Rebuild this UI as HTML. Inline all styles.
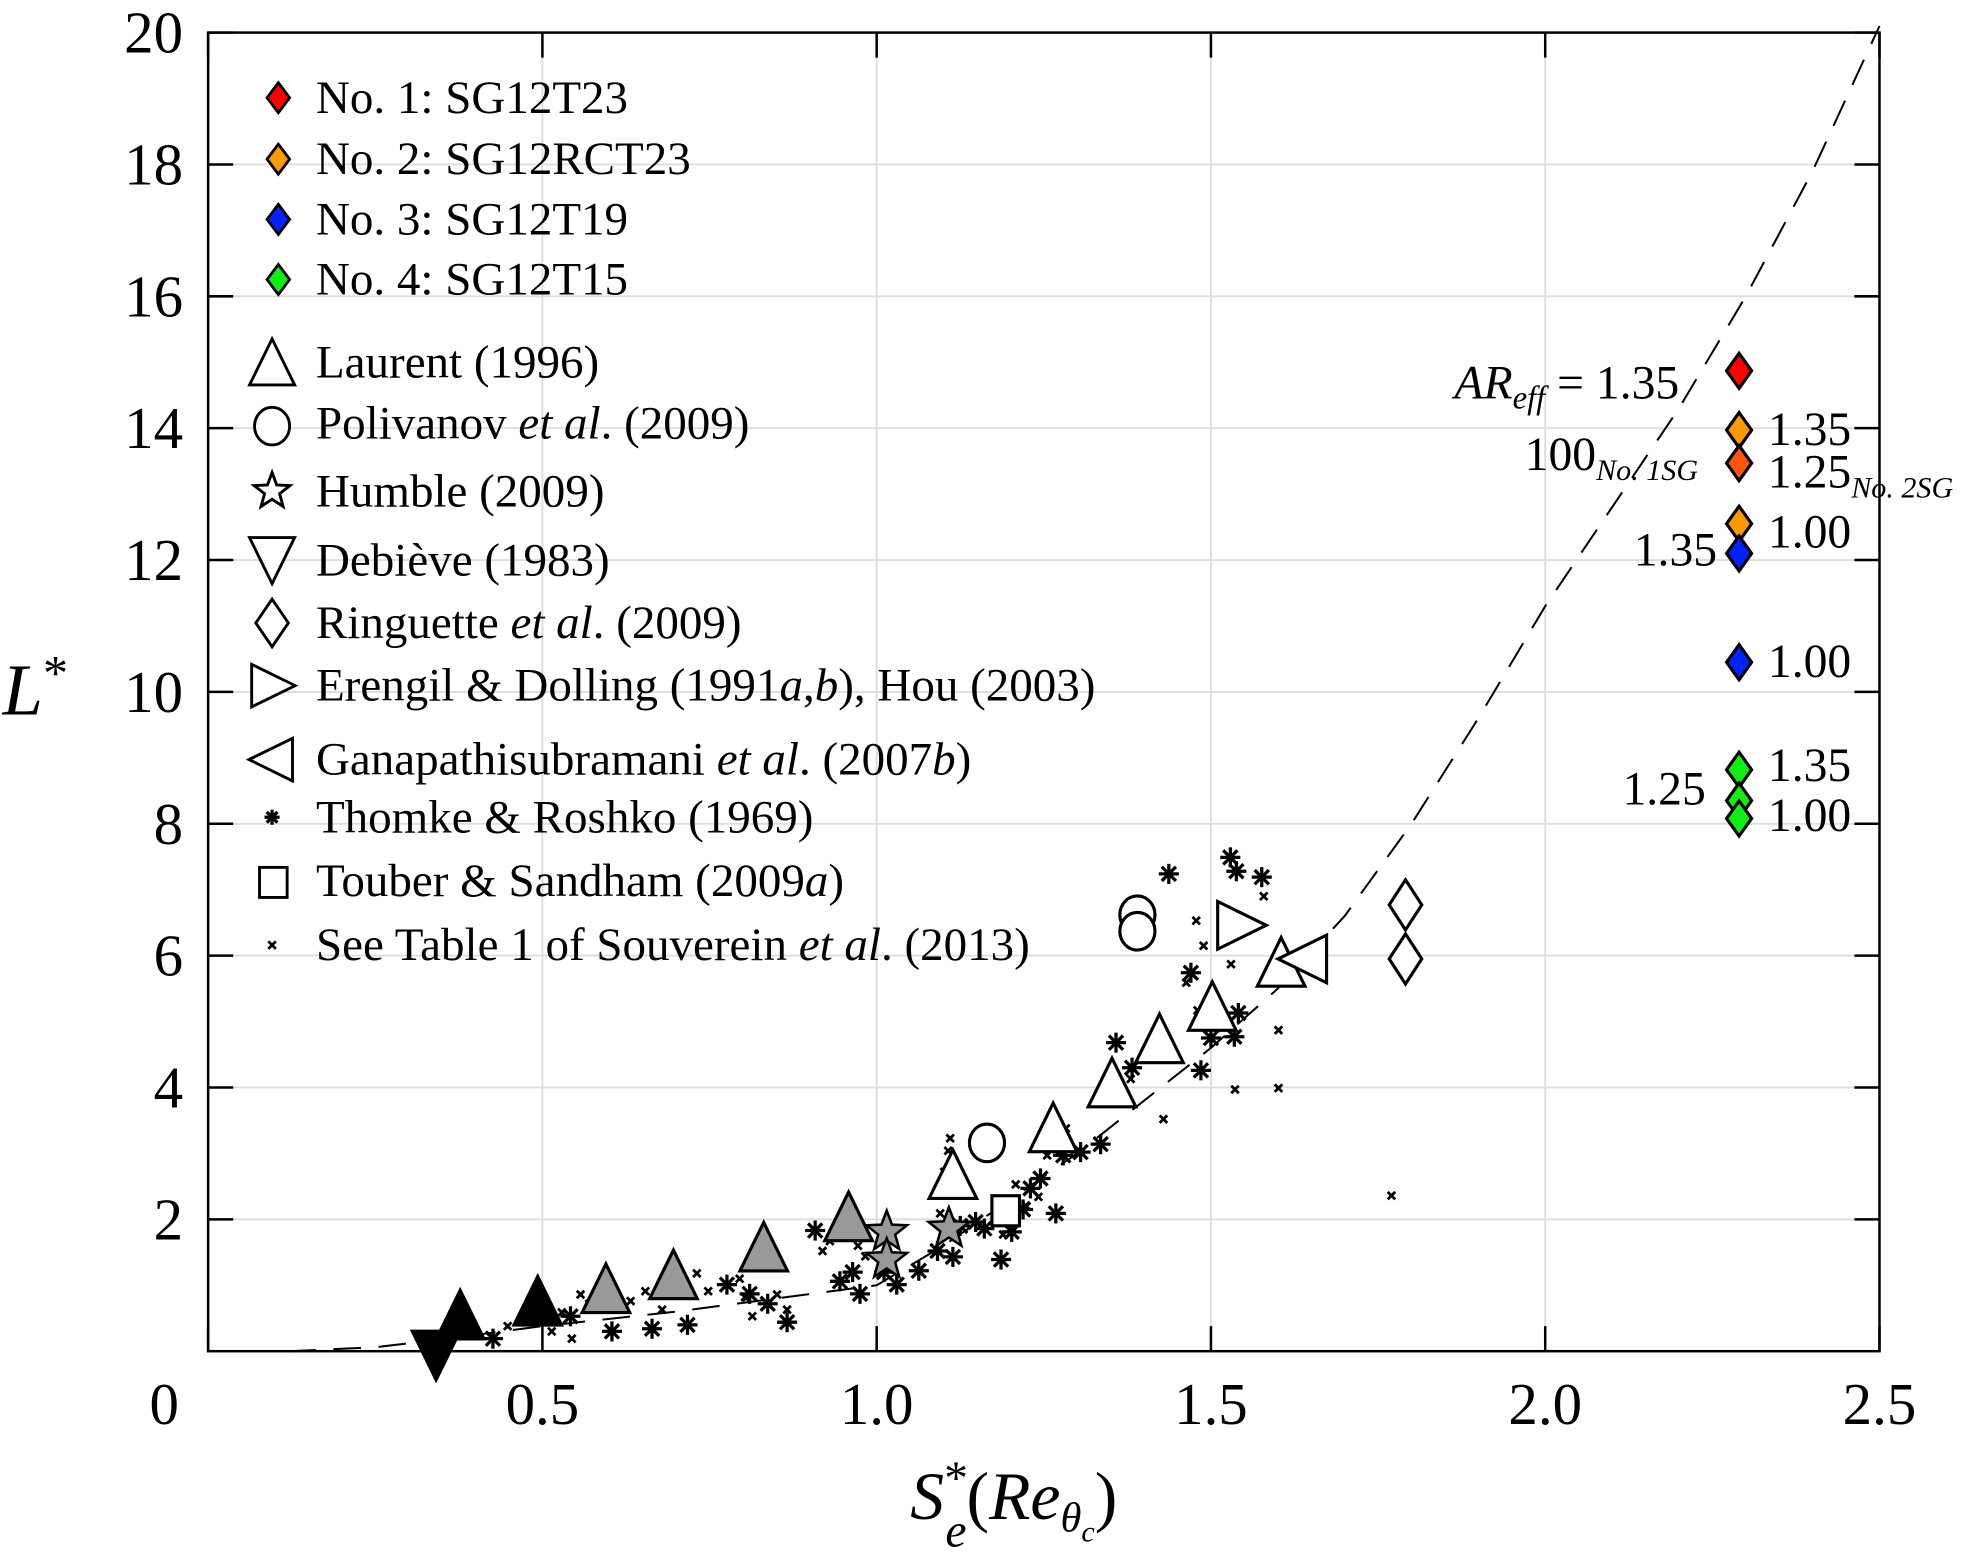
<!DOCTYPE html>
<html><head><meta charset="utf-8">
<style>
html,body{margin:0;padding:0;background:#fff;}
svg{display:block;}
text{font-family:"Liberation Serif",serif;fill:#000;}
</style></head>
<body>
<svg id="chart" width="1966" height="1553" viewBox="0 0 1568 1239" preserveAspectRatio="none" xmlns="http://www.w3.org/2000/svg">
<g id="grid"></g>
<g id="curve"></g>
<g id="marks"></g>
<rect x="166" y="26" width="1333" height="1052" fill="none" stroke="#000" stroke-width="2"/>
<g id="ticks"></g>
<text x="2" y="570" font-size="58" font-style="italic">L<tspan font-style="normal" font-size="40" dy="-20">*</tspan></text>
<text x="726" y="1212" font-size="54" font-style="italic">S<tspan font-style="normal" font-size="38" dy="-20">*</tspan><tspan font-size="38" dx="-18" dy="42">e</tspan><tspan font-style="normal" dy="-22">(</tspan>Re<tspan font-size="34" dy="10">θ</tspan><tspan font-size="24" dy="8">c</tspan><tspan font-style="normal" dy="-18">)</tspan></text>
<g id="legend"></g>
<g id="annot" font-size="38">
<text x="1160" y="318"><tspan font-style="italic">AR</tspan><tspan font-style="italic" font-size="26" dy="8">eff</tspan><tspan dy="-8"> = 1.35</tspan></text>
<text x="1216" y="375">100<tspan font-style="italic" font-size="24" dy="8">No. 1SG</tspan></text>
<text x="1410" y="355">1.35</text>
<text x="1410" y="389">1.25<tspan font-style="italic" font-size="24" dy="8">No. 2SG</tspan></text>
<text x="1410" y="437">1.00</text>
<text x="1303" y="451">1.35</text>
<text x="1410" y="540">1.00</text>
<text x="1410" y="623">1.35</text>
<text x="1294" y="642">1.25</text>
<text x="1410" y="663">1.00</text>
</g>
</svg>
<script>
const NS="http://www.w3.org/2000/svg";
const xTicks=[0,0.5,1.0,1.5,2.0,2.5];
const xTickLabels=["0","0.5","1.0","1.5","2.0","2.5"];
const yTicks=[2,4,6,8,10,12,14,16,18,20];
const yTickLabels=["2","4","6","8","10","12","14","16","18","20"];
const curveX=[0.12,0.25,0.35,0.5,0.7,0.85,1.0,1.1,1.2,1.3,1.4,1.5,1.6,1.7,1.8,1.9,2.0,2.1,2.2,2.3,2.4,2.5];
const curveY=[0,0.06,0.18,0.38,0.6,0.8,1.0,1.6,2.3,3.0,3.8,4.6,5.5,6.6,8.0,9.6,11.3,12.8,14.3,16.0,17.9,20.1];
const laurentX=[1.114,1.264,1.352,1.423,1.502,1.605];
const laurentY=[2.62,3.33,4.01,4.68,5.17,5.84];
const laurentGrayX=[0.595,0.696,0.831,0.958];
const laurentGrayY=[0.89,1.10,1.52,1.98];
const laurentBlackX=[0.377,0.493];
const laurentBlackY=[0.49,0.70];
const debieveX=[0.341];
const debieveY=[0.0];
const polivanovX=[1.39,1.39,1.165];
const polivanovY=[6.62,6.37,3.16];
const humbleX=[1.015,1.015,1.108];
const humbleY=[1.81,1.39,1.86];
const touberX=[1.193];
const touberY=[2.13];
const ringuetteX=[1.791,1.791];
const ringuetteY=[6.77,5.95];
const erengilX=[1.54];
const erengilY=[6.46];
const ganapathiX=[1.643];
const ganapathiY=[5.95];
const thomkeX=[0.426,0.542,0.604,0.664,0.717,0.776,0.810,0.837,0.866,0.908,0.945,0.964,0.975,1.011,1.030,1.063,1.091,1.114,1.125,1.148,1.161,1.186,1.202,1.219,1.230,1.245,1.268,1.279,1.305,1.335,1.358,1.382,1.470,1.437,1.529,1.538,1.576,1.485,1.541,1.535,1.500];
const thomkeY=[0.19,0.53,0.30,0.34,0.40,1.01,0.87,0.72,0.44,1.83,1.06,1.20,0.87,1.20,1.01,1.22,1.52,1.43,1.90,1.96,1.86,1.39,1.81,2.15,2.47,2.62,2.09,2.97,3.02,3.14,4.68,4.30,5.74,7.24,7.49,7.28,7.19,4.26,5.13,4.77,4.75];
const souvX=[0.448,0.514,0.529,0.544,0.557,0.570,0.632,0.654,0.679,0.731,0.748,0.795,0.803,0.814,0.833,0.851,0.866,0.919,0.930,0.972,0.983,1.101,1.107,1.110,1.105,1.095,1.114,1.189,1.208,1.223,1.242,1.255,1.274,1.283,1.371,1.380,1.437,1.429,1.480,1.463,1.478,1.489,1.530,1.536,1.601,1.601,1.770,1.579];
const souvY=[0.38,0.30,0.59,0.19,0.86,0.72,0.76,0.91,0.63,1.18,0.91,1.10,0.82,0.53,1.35,0.86,0.63,1.52,1.67,1.60,1.44,2.72,3.04,3.23,2.43,2.09,2.53,1.77,2.53,2.21,2.34,2.97,3.04,3.38,3.80,4.13,4.51,3.52,5.17,5.59,6.53,6.15,5.87,3.97,4.87,3.99,2.36,6.90];
const sgX=[2.29,2.29,2.29,2.29,2.29,2.29,2.29,2.29,2.29];
const sgY=[14.87,13.97,13.47,12.55,12.10,10.45,8.82,8.35,8.08];
const sgColors=["#ff0000","#ff9900","#ff5511","#ff9900","#0022ff","#0022ff","#11ee11","#11ee11","#11ee11"];
const sgNames=["sg-no1-135","sg-no2-135","sg-no2-125","sg-no2-100","sg-no3-135","sg-no3-100","sg-no4-135","sg-no4-125","sg-no4-100"];

const X0=166,X1=1499,Y0=1078,Y1=26;
const sx=v=>X0+(X1-X0)*v/2.5;
const sy=v=>Y0-(Y0-Y1)*v/20;
function mk(tag,attrs,parent){const e=document.createElementNS(NS,tag);for(const k in attrs)e.setAttribute(k,attrs[k]);parent.appendChild(e);return e;}
const grid=document.getElementById('grid'),ticks=document.getElementById('ticks'),marks=document.getElementById('marks');
xTicks.forEach((t,i)=>{
  const x=sx(t);
  if(t>0&&t<2.5){const g=mk('line',{x1:x,x2:x,y1:Y1,y2:Y0,stroke:'#dddddd','stroke-width':1.5},grid);
  
  }
  const a=mk('line',{x1:x,x2:x,y1:Y0,y2:Y0-20,stroke:'#000','stroke-width':2},ticks);
  
  
  const b=mk('line',{x1:x,x2:x,y1:Y1,y2:Y1+20,stroke:'#000','stroke-width':2},ticks);
  
  
  const tx=mk('text',{x:(t===0?x-35:x),y:1136,'font-size':47,'text-anchor':'middle'},ticks);
  tx.textContent=xTickLabels[i];
  
  
});
yTicks.forEach((t,i)=>{
  const y=sy(t);
  if(t<20){const g=mk('line',{x1:X0,x2:X1,y1:y,y2:y,stroke:'#dddddd','stroke-width':1.5},grid);
  
  }
  const a=mk('line',{x1:X0,x2:X0+20,y1:y,y2:y,stroke:'#000','stroke-width':2},ticks);
  
  
  const b=mk('line',{x1:X1-20,x2:X1,y1:y,y2:y,stroke:'#000','stroke-width':2},ticks);
  
  
  const tx=mk('text',{x:146,y:y+16,'font-size':47,'text-anchor':'end'},ticks);
  tx.textContent=yTickLabels[i];
  
  
});
const cg=document.getElementById('curve');
const pl=mk('polyline',{points:curveX.map((x,i)=>sx(x)+','+sy(curveY[i])).join(' '),fill:'none',stroke:'#000','stroke-width':1.6,'stroke-dasharray':'22,14'},cg);



function tri(cx,cy,s,dir){const w=s*0.5,h=s*0.6;
  if(dir==='up')return `${cx},${cy-h} ${cx+w},${cy+h*0.7} ${cx-w},${cy+h*0.7}`;
  if(dir==='down')return `${cx},${cy+h} ${cx+w},${cy-h*0.7} ${cx-w},${cy-h*0.7}`;
  if(dir==='right')return `${cx+h},${cy} ${cx-h*0.7},${cy-w} ${cx-h*0.7},${cy+w}`;
  return `${cx-h},${cy} ${cx+h*0.7},${cy-w} ${cx+h*0.7},${cy+w}`;}
function star(cx,cy,r){let p=[];for(let k=0;k<10;k++){const a=-Math.PI/2+k*Math.PI/5,rr=k%2?r*0.42:r;p.push((cx+rr*Math.cos(a)).toFixed(1)+','+(cy+rr*Math.sin(a)).toFixed(1));}return p.join(' ');}
function dia(cx,cy,w,h){return `${cx},${cy-h} ${cx+w},${cy} ${cx},${cy+h} ${cx-w},${cy}`;}
function asterisk(cx,cy,r,parent){const g=mk('g',{stroke:'#000','stroke-width':2.6},parent);
  for(let k=0;k<4;k++){const a=k*Math.PI/4;mk('line',{x1:cx-r*Math.cos(a),y1:cy-r*Math.sin(a),x2:cx+r*Math.cos(a),y2:cy+r*Math.sin(a)},g);}return g;}
function cross(cx,cy,r,parent){const g=mk('g',{stroke:'#000','stroke-width':2.2},parent);
  mk('line',{x1:cx-r,y1:cy-r,x2:cx+r,y2:cy+r},g);mk('line',{x1:cx-r,y1:cy+r,x2:cx+r,y2:cy-r},g);return g;}

souvX.forEach((x,i)=>{const e=cross(sx(x),sy(souvY[i]),3,marks);
  
  });
thomkeX.forEach((x,i)=>{const e=asterisk(sx(x),sy(thomkeY[i]),8,marks);
  
  });
function triSet(X,Y,fill,name,dir){X.forEach((x,i)=>{const e=mk('polygon',{points:tri(sx(x),sy(Y[i]),38,dir),fill:fill,stroke:'#000','stroke-width':2.5},marks);
  
  });}
triSet(laurentBlackX,laurentBlackY,'#000','laurent-black-triangle','up');
triSet(laurentGrayX,laurentGrayY,'#999','laurent-gray-triangle','up');
triSet(laurentX,laurentY,'#fff','laurent-triangle','up');
triSet(debieveX,debieveY,'#000','debieve-triangle','down');
triSet(erengilX,erengilY,'#fff','erengil-triangle','right');
triSet(ganapathiX,ganapathiY,'#fff','ganapathi-triangle','left');
polivanovX.forEach((x,i)=>{const e=mk('ellipse',{cx:sx(x),cy:sy(polivanovY[i]),rx:14,ry:15,fill:'#fff',stroke:'#000','stroke-width':2.5},marks);
  
  });
humbleX.forEach((x,i)=>{const e=mk('polygon',{points:star(sx(x),sy(humbleY[i]),17),fill:'#999',stroke:'#000','stroke-width':2},marks);
  
  });
touberX.forEach((x,i)=>{const e=mk('rect',{x:sx(x)-11,y:sy(touberY[i])-12,width:22,height:24,fill:'#fff',stroke:'#000','stroke-width':2.5},marks);
  
  });
ringuetteX.forEach((x,i)=>{const e=mk('polygon',{points:dia(sx(x),sy(ringuetteY[i]),13,20),fill:'#fff',stroke:'#000','stroke-width':2.5},marks);
  
  });
sgX.forEach((x,i)=>{const e=mk('polygon',{points:dia(sx(x),sy(sgY[i]),10,14),fill:sgColors[i],stroke:'#000','stroke-width':2.5},marks);
  
  });

const lg=document.getElementById('legend');
const legText=[
 ['No. 1: SG12T23',78],['No. 2: SG12RCT23',127],['No. 3: SG12T19',175],['No. 4: SG12T15',223],
 ['Laurent (1996)',289],['Polivanov <i>et al</i>. (2009)',338],['Humble (2009)',392],['Debiève (1983)',447],
 ['Ringuette <i>et al</i>. (2009)',497],['Erengil &amp; Dolling (1991<i>a</i>,<i>b</i>), Hou (2003)',547],
 ['Ganapathisubramani <i>et al</i>. (2007<i>b</i>)',606],['Thomke &amp; Roshko (1969)',652],
 ['Touber &amp; Sandham (2009<i>a</i>)',703],['See Table 1 of Souverein <i>et al</i>. (2013)',754]];
const legNames=['legend-no1','legend-no2','legend-no3','legend-no4','legend-laurent','legend-polivanov','legend-humble','legend-debieve','legend-ringuette','legend-erengil','legend-ganapathi','legend-thomke','legend-touber','legend-souverein'];
legText.forEach((r,i)=>{const t=mk('text',{x:252,y:r[1]+12,'font-size':37.5},lg);
  t.innerHTML=r[0].replace(/<i>/g,'<tspan font-style="italic">').replace(/<\/i>/g,'</tspan>');
  
  });
const legCols=['#ff0000','#ff9900','#0022ff','#11ee11'];
[78,127,175,223].forEach((y,i)=>{const e=mk('polygon',{points:dia(222,y,9,12),fill:legCols[i],stroke:'#000','stroke-width':2.2},lg);
  
  });
const lm=[
 ['polygon',{points:tri(217,292,36,'up')}],['ellipse',{cx:217,cy:340,rx:14,ry:15}],
 ['polygon',{points:star(217,392,15)}],['polygon',{points:tri(217,444,36,'down')}],
 ['polygon',{points:dia(217,497,13,19)}],['polygon',{points:tri(215,547,34,'right')}],
 ['polygon',{points:tri(219,606,34,'left')}],['rect',{x:207,y:692,width:22,height:24}]];
lm.forEach(m=>{const a=Object.assign({fill:'#fff',stroke:'#000','stroke-width':2.3},m[1]);const e=mk(m[0],a,lg);
  
  });
let e1=asterisk(217,652,6,lg);


let e2=cross(217,754,3,lg);


</script>
</body></html>
